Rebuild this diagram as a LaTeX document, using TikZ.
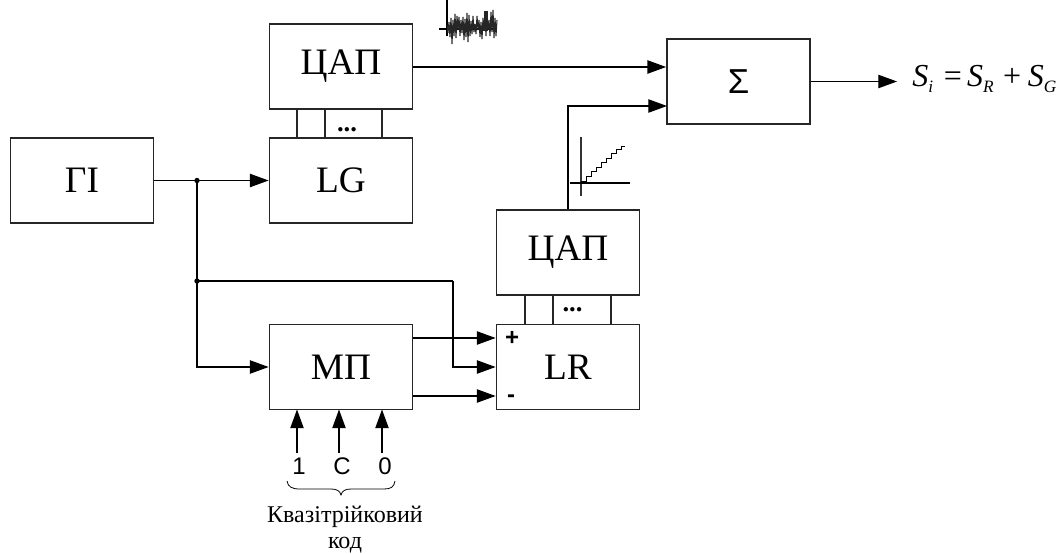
\documentclass[tikz,border=0pt]{standalone}
\usepackage{fontspec}
\setmainfont{Liberation Serif}
\newfontfamily\arialf{Liberation Sans}
\usetikzlibrary{arrows.meta,calc}
\tikzset{
  blk/.style={draw=black!85,line width=1.1pt,fill=white,inner sep=0pt,minimum width=107.5pt,minimum height=64pt,font=\fontsize{28}{30}\selectfont},
  conn/.style={draw=black,line width=0.85pt},
  arr/.style={conn,-{Triangle[length=14pt,width=10pt]}},
  bus/.style={draw=black!85,line width=0.95pt},
  pinlabel/.style={font=\arialf\fontsize{18}{20}\selectfont,inner sep=0pt},
  sgn/.style={font=\arialf\bfseries\fontsize{18}{20}\selectfont,inner sep=0pt},
  captext/.style={font=\fontsize{18}{20}\selectfont,inner sep=0pt,anchor=base},
  jdot/.style={circle,fill=black,inner sep=0pt,minimum size=4pt},
  busdots/.style={font=\bfseries\fontsize{20}{20}\selectfont,inner sep=0pt},
}
\newcommand{\subtxt}[1]{\raisebox{-4.5pt}{\fontsize{13}{13}\selectfont #1}}
\begin{document}
\begin{tikzpicture}[x=0.75pt,y=-0.75pt]
\useasboundingbox (0,0) rectangle (1059,553);
% blocks
\node[blk] (gi) at (82,180.5) {ГІ};
\node[blk] (dac1) at (341,66.5) {ЦАП};
\node[blk] (lg) at (341,180.5) {LG};
\node[blk] (sum) at (738.5,81.5) {\arialf\fontsize{26}{28}\selectfont Σ};
\node[blk] (dac2) at (568,252.5) {ЦАП};
\node[blk] (lr) at (568,367) {LR};
\node[blk] (mp) at (341,367) {МП};
% named points
\coordinate (j1) at (197,180.5);
\coordinate (j2) at (197,281);
\coordinate (t1) at (453,281);
\coordinate (s2) at (667,106);
\coordinate (s1) at (568,106);
\coordinate (out) at (897,81.5);
% buses
\foreach \x in {297,325,382} \draw[bus] (\x,109) -- (\x,138);
\foreach \x in {525,553,611} \draw[bus] (\x,295) -- (\x,324);
\node[busdots] (d1) at (347,130) {...};
\node[busdots] (d2) at (572.5,310) {...};
% connectors
\draw[arr] (dac1.east |- 0,67) -- (sum.west |- 0,67);
\draw[arr] (dac2.north) -- (s1) -- (s2);
\draw[arr] (sum.east) -- (out);
\draw[arr] (gi.east) -- (lg.west);
\draw[arr] (j1) -- (j1 |- mp.west) -- (mp.west);
\draw[conn] (j2) -- (t1);
\draw[arr] (t1) -- (t1 |- lr.west) -- (lr.west);
\draw[arr] (mp.east |- 0,338) -- (lr.west |- 0,338);
\draw[arr] (mp.east |- 0,396) -- (lr.west |- 0,396);
\node[jdot] (jd1) at (j1) {};
\node[jdot] (jd2) at (j2) {};
\node[sgn] (plus) at (512,338) {+};
\node[sgn] (minus) at (511,399) {-};
% inputs of MP
\node[pinlabel] (p1) at (299,466) {1};
\node[pinlabel] (pc) at (342,466) {C};
\node[pinlabel] (p0) at (385,466) {0};
\draw[arr] (297,453) -- (297,409.5);
\draw[arr] (339,453) -- (339,409.5);
\draw[arr] (382,453) -- (382,409.5);
% brace
\draw[line width=0.6pt] (287,481) .. controls (288,487) and (292,489) .. (300,489) -- (331,489)
  .. controls (337,489) and (340,491) .. (341,495) .. controls (342,491) and (345,489) .. (351,489)
  -- (384,489) .. controls (391,489) and (394,487) .. (395,481);
\node[captext] (c1) at (345,522) {Квазітрійковий};
\node[captext] (c2) at (345,548) {код};
% output formula
\node[inner sep=0pt,anchor=base west] (f) at (912,86) {\fontsize{24}{26}\selectfont\itshape S\subtxt{i}\kern8pt\upshape=\kern4pt\itshape S\subtxt{R}\kern7pt\upshape+\kern5pt\itshape S\subtxt{G}};
% ramp plot
\draw[line width=1.1pt,black!80] (581,137) -- (581,196);
\draw[line width=0.9pt] (570,183) -- (630,183);
\draw[line width=0.6pt] (581,181) -- (586,181) -- (586,176) -- (591,176) -- (591,171) -- (596,171) -- (596,167) -- (601,167) -- (601,162) -- (606,162) -- (606,158) -- (611,158) -- (611,153) -- (616,153) -- (616,149) -- (621,149) -- (621,146) -- (625,146);
% noise plot
\draw[line width=1.1pt] (447,0) -- (447,36);
\draw[line width=1pt] (439,29) -- (497,29);
\draw[line width=0.8pt,black!85,line join=bevel] (447,25) -- (448,33) -- (449,22) -- (450,37) -- (451,18) -- (452,44) -- (453,20) -- (454,36) -- (455,14) -- (456,38) -- (457,16) -- (458,30) -- (459,17) -- (460,36) -- (461,20) -- (462,33) -- (463,17) -- (464,40) -- (465,19) -- (466,37) -- (467,13) -- (468,42) -- (469,15) -- (470,36) -- (471,21) -- (472,34) -- (473,16) -- (474,32) -- (475,24) -- (476,34) -- (477,16) -- (478,30) -- (479,20) -- (480,37) -- (481,22) -- (482,39) -- (483,18) -- (484,30) -- (485,16) -- (486,36) -- (487,14) -- (488,30) -- (489,20) -- (490,36) -- (491,12) -- (492,32) -- (493,10) -- (494,38) -- (495,18) -- (496,36) -- (497,20);
\fill[black!85] (483,21) rectangle (488,31);
\fill[black!85] (484,11) rectangle (488,20);
\end{tikzpicture}
\end{document}
